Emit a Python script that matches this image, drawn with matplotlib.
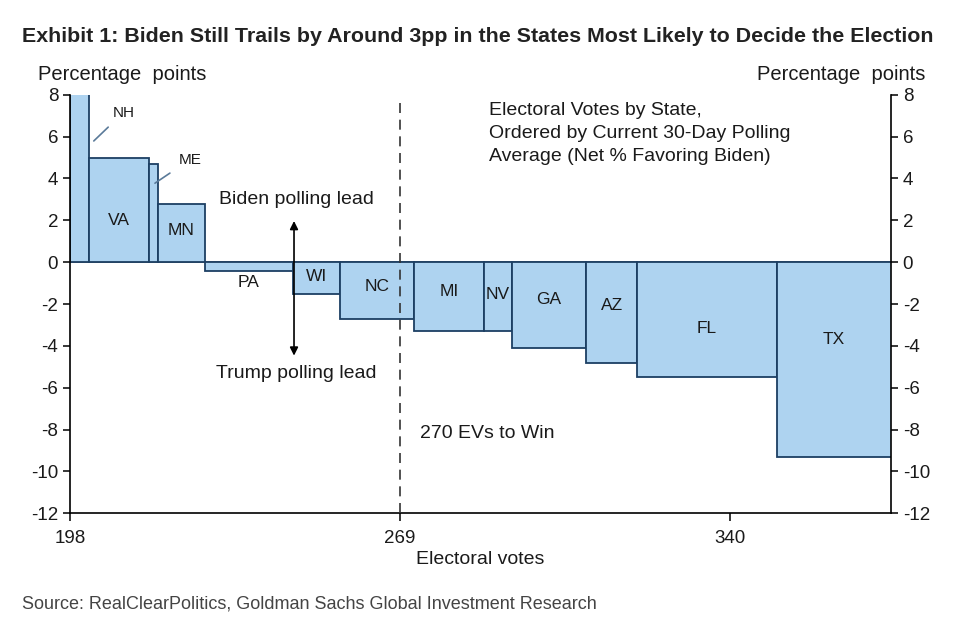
import matplotlib.pyplot as plt
import numpy as np

plt.rcParams['font.family'] = ['Liberation Sans', 'DejaVu Sans']
plt.rcParams['axes.unicode_minus'] = False

# Estados ordenados pela média de 30 dias (net % a favor de Biden)
states = ['NH', 'VA', 'ME', 'MN', 'PA', 'WI', 'NC', 'MI', 'NV', 'GA', 'AZ', 'FL', 'TX']
electoral_votes = [4, 13, 2, 10, 19, 10, 16, 15, 6, 16, 11, 30, 40]
net_biden = [8.5, 5.0, 4.7, 2.8, -0.4, -1.5, -2.7, -3.3, -3.3, -4.1, -4.8, -5.5, -9.3]
label_y = [None, 2.0, None, 1.5, -0.95, -0.7, -1.15, -1.4, -1.55, -1.8, -2.05, -3.15, -3.7]
base_ev = 198
x_max = 374.6

starts = base_ev + np.concatenate([[0], np.cumsum(electoral_votes)[:-1]])
centers = starts + np.array(electoral_votes) / 2

fill = '#aed3f0'
edge = '#1c3f63'
txt = '#1a1a1a'

fig = plt.figure(figsize=(9.58, 6.36), dpi=100)
ax = fig.add_axes([0.073, 0.193, 0.857, 0.658])

ax.bar(starts, net_biden, width=electoral_votes, align='edge',
       color=fill, edgecolor=edge, linewidth=1.3, zorder=2)

ax.set_xlim(base_ev, x_max)
ax.set_ylim(-12, 8)

ax.axhline(0, color='#555555', linewidth=1.2, zorder=1)
ax.axvline(269, ymax=0.985, color='#333333', linestyle=(0, (6, 4)), linewidth=1.2, zorder=3)

# etiquetas dos estados
for st, cx, ly in zip(states, centers, label_y):
    if ly is None:
        continue
    if st == 'TX':
        cx = (starts[-1] + x_max) / 2
    ax.text(cx, ly, st, ha='center', va='center', fontsize=12.5, color=txt, zorder=4)

# NH e ME com linha de chamada
ax.annotate('NH', xy=(202.7, 5.7), xytext=(209.5, 7.15), fontsize=11, ha='center', va='center',
            color=txt, arrowprops=dict(arrowstyle='-', color='#5a7a99', lw=1.2, shrinkA=5))
ax.annotate('ME', xy=(215.8, 3.7), xytext=(223.8, 4.9), fontsize=11, ha='center', va='center',
            color=txt, arrowprops=dict(arrowstyle='-', color='#5a7a99', lw=1.2, shrinkA=5))

# seta de lead
ax.annotate('', xy=(246.2, 2.1), xytext=(246.2, -4.6),
            arrowprops=dict(arrowstyle='<|-|>', color='black', lw=1.2, mutation_scale=12), zorder=5)
ax.text(246.7, 3.0, 'Biden polling lead', ha='center', va='center', fontsize=14, color=txt)
ax.text(246.7, -5.3, 'Trump polling lead', ha='center', va='center', fontsize=14, color=txt)
ax.text(273.2, -8.2, '270 EVs to Win', ha='left', va='center', fontsize=14, color=txt)
ax.text(288.2, 7.65, 'Electoral Votes by State,\nOrdered by Current 30-Day Polling\nAverage (Net % Favoring Biden)',
        ha='left', va='top', fontsize=14, linespacing=1.45, color=txt)

# eixos
ax.spines['top'].set_visible(False)
for s in ['left', 'right', 'bottom']:
    ax.spines[s].set_linewidth(1.2)
ax.set_yticks(np.arange(-12, 9, 2))
ax.set_xticks([198, 269, 340])
ax.tick_params(axis='y', which='both', left=True, right=True, labelleft=True, labelright=True,
               labelsize=13.5, length=5, width=1.1, direction='out', labelcolor=txt)
ax.tick_params(axis='x', labelsize=13.5, length=6, width=1.1, direction='out', labelcolor=txt, pad=6)
ax.set_xlabel('Electoral votes', fontsize=14, labelpad=3, color=txt)

fig.text(38 / 958, 1 - 75 / 636, 'Percentage  points', fontsize=14.5, ha='left', va='center', color=txt)
fig.text(925 / 958, 1 - 75 / 636, 'Percentage  points', fontsize=14.5, ha='right', va='center', color=txt)

fig.text(22 / 958, 1 - 37 / 636,
         'Exhibit 1: Biden Still Trails by Around 3pp in the States Most Likely to Decide the Election',
         fontsize=15.4, fontweight='bold', ha='left', va='center', color='#222222')
fig.text(22 / 958, 1 - 604 / 636, 'Source: RealClearPolitics, Goldman Sachs Global Investment Research',
         fontsize=13, ha='left', va='center', color='#444444')

plt.savefig('out.png', dpi=100)
